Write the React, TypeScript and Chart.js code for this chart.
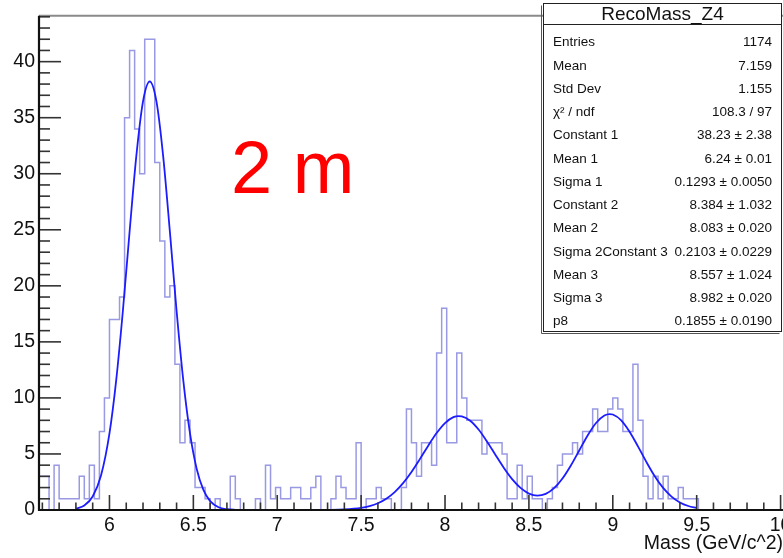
import React, { useEffect, useRef } from 'react';
import { Chart, registerables } from 'chart.js';

Chart.register(...registerables);

// ---------------- data ----------------
const BIN_LOW = 5.58;
const BIN_WIDTH = 0.03;
const COUNTS = [
  3, 3, 3, 0, 4, 1, 1, 1, 1, 3, 1, 4, 1, 7,
  10, 17, 17, 19, 35, 41, 34, 30, 42, 42, 31, 24, 19, 20, 13, 6, 8, 6,
  2, 2, 1, 0, 1, 0, 0, 3, 1,
  0, 0, 0, 1, 0, 4, 1, 2, 1, 1, 2, 2, 1, 1, 2, 3,
  0, 0, 1, 3, 2, 1, 1, 6, 0, 1, 1, 2, 1, 1, 0, 0, 2,
  9, 6, 3, 6, 6, 4, 14, 18, 6, 6, 14, 10, 8, 8, 8, 5, 6, 6, 6, 5, 1, 1, 4, 1, 3, 1,
  1, 0, 1, 2, 4, 5, 5, 6, 5, 7, 7, 9, 7, 7, 9, 10, 9, 7, 7, 13, 8, 3, 1, 3, 1, 3, 1, 1, 2, 1, 1, 1, 0,
  0, 0, 0, 0, 0, 0, 0, 0, 0, 0, 0, 0, 0, 0, 0, 0, 0,
];

const FIT_X = [
  5.8, 5.85, 5.9, 5.95, 6.0, 6.04, 6.08, 6.12, 6.16, 6.2, 6.24, 6.28, 6.32, 6.36, 6.4, 6.44, 6.48,
  6.52, 6.56, 6.6, 6.65, 6.7, 6.75, 6.8, 7.0, 7.2, 7.3, 7.4, 7.5, 7.55, 7.6, 7.65, 7.7, 7.75, 7.8,
  7.85, 7.9, 7.95, 8.0, 8.05, 8.08, 8.1, 8.15, 8.2, 8.25, 8.3, 8.35, 8.4, 8.45, 8.5, 8.55, 8.6, 8.65,
  8.7, 8.75, 8.8, 8.85, 8.9, 8.95, 8.98, 9.0, 9.05, 9.1, 9.15, 9.2, 9.25, 9.3, 9.35, 9.4, 9.45, 9.5,
];
const FIT_Y = [
  0.117, 0.404, 1.205, 3.091, 6.83, 11.56, 17.78, 24.85, 31.57, 36.45, 38.23, 36.45, 31.57, 24.85, 17.78, 11.56, 6.83,
  3.665, 1.788, 0.793, 0.251, 0.068, 0.015, 0.003, 0, 0.001, 0.008, 0.043, 0.18, 0.338, 0.6, 1.007, 1.596, 2.393, 3.39,
  4.538, 5.741, 6.864, 7.756, 8.282, 8.383, 8.357, 7.969, 7.182, 6.117, 4.933, 3.771, 2.754, 1.969, 1.466, 1.281, 1.435, 1.946,
  2.808, 3.969, 5.313, 6.654, 7.764, 8.431, 8.557, 8.517, 8.001, 6.99, 5.678, 4.29, 3.014, 1.969, 1.196, 0.676, 0.355, 0.173,
];

const X_MIN = 5.58;
const X_MAX = 10.08;
const Y_MIN = 0;
const Y_MAX = 44.1;
const X_TICKS = [6, 6.5, 7, 7.5, 8, 8.5, 9, 9.5, 10];
const X_TICK_LABELS = ['6', '6.5', '7', '7.5', '8', '8.5', '9', '9.5', '10'];
const X_MINOR_START = 5.6;
const X_MINOR_STEP = 0.1;
const Y_TICKS = [0, 5, 10, 15, 20, 25, 30, 35, 40];
const Y_TICK_LABELS = ['0', '5', '10', '15', '20', '25', '30', '35', '40'];
const Y_MINOR_STEP = 1;

const X_TITLE = 'Mass (GeV/c^2)';
const ANNOTATION = '2 m';
const STATS_TITLE = 'RecoMass_Z4';
const STATS_LABELS = [
  'Entries', 'Mean', 'Std Dev', 'χ² / ndf', 'Constant 1', 'Mean 1', 'Sigma 1',
  'Constant 2', 'Mean 2', 'Sigma 2Constant 3', 'Mean 3', 'Sigma 3', 'p8',
];
const STATS_VALUES = [
  '1174', '7.159', '1.155', '108.3 / 97', '38.23 ± 2.38', '6.24 ± 0.01', '0.1293 ± 0.0050',
  '8.384 ± 1.032', '8.083 ± 0.020', '0.2103 ± 0.0229', '8.557 ± 1.024', '8.982 ± 0.020', '0.1855 ± 0.0190',
];

const FONT = '"Liberation Sans", Arial, Helvetica, sans-serif';

// ---------------- decorations plugin ----------------
const rootDecor = {
  id: 'rootDecor',
  afterDatasetsDraw(chart: any) {
    const ctx = chart.ctx as CanvasRenderingContext2D;
    const xs = chart.scales.x;
    const ys = chart.scales.y;
    const { left, right, top, bottom } = chart.chartArea;
    ctx.save();

    // frame top (grey)
    ctx.strokeStyle = '#8a8a8a';
    ctx.lineWidth = 2;
    ctx.beginPath();
    ctx.moveTo(left, top);
    ctx.lineTo(right, top);
    ctx.stroke();

    // ticks
    ctx.strokeStyle = '#333';
    ctx.lineWidth = 1.6;
    for (let k = 0; ; k++) {
      const v = X_MINOR_START + k * X_MINOR_STEP;
      if (v > X_MAX) break;
      const px = xs.getPixelForValue(v);
      const major = Math.abs(v * 2 - Math.round(v * 2)) < 1e-6;
      const len = major ? 15 : 7.5;
      ctx.beginPath();
      ctx.moveTo(px, bottom);
      ctx.lineTo(px, bottom - len);
      ctx.stroke();
    }
    for (let k = 0; ; k++) {
      const v = Y_MIN + k * Y_MINOR_STEP;
      if (v > Y_MAX) break;
      const py = ys.getPixelForValue(v);
      const major = v % 5 === 0;
      const len = major ? 22 : 11;
      ctx.beginPath();
      ctx.moveTo(left, py);
      ctx.lineTo(left + len, py);
      ctx.stroke();
    }

    // axis lines
    ctx.strokeStyle = '#111';
    ctx.lineWidth = 2.2;
    ctx.beginPath();
    ctx.moveTo(left, top);
    ctx.lineTo(left, bottom);
    ctx.lineTo(right, bottom);
    ctx.stroke();

    // axis title
    ctx.fillStyle = '#111';
    ctx.font = `19.5px ${FONT}`;
    ctx.textAlign = 'right';
    ctx.textBaseline = 'alphabetic';
    ctx.fillText(X_TITLE, 783, 549);

    // annotation
    ctx.fillStyle = '#ff0000';
    ctx.font = `74px ${FONT}`;
    ctx.textAlign = 'left';
    ctx.fillText(ANNOTATION, 231, 193);

    // stats box
    const bx = 543.5, by = 3.5, bx2 = 781.5, by2 = 331.5;
    ctx.fillStyle = '#fff';
    ctx.fillRect(bx, by, bx2 - bx, by2 - by);
    ctx.strokeStyle = '#555';
    ctx.lineWidth = 1;
    ctx.beginPath();
    ctx.moveTo(bx - 2, by + 2);
    ctx.lineTo(bx - 2, by2 + 2);
    ctx.lineTo(bx2 - 2, by2 + 2);
    ctx.stroke();
    ctx.strokeStyle = '#222';
    ctx.strokeRect(bx, by, bx2 - bx, by2 - by);
    ctx.beginPath();
    ctx.moveTo(bx, 24.5);
    ctx.lineTo(bx2, 24.5);
    ctx.stroke();

    ctx.fillStyle = '#111';
    ctx.font = `19px ${FONT}`;
    ctx.textAlign = 'center';
    ctx.textBaseline = 'middle';
    ctx.fillText(STATS_TITLE, (bx + bx2) / 2, 15);

    ctx.font = `13.5px ${FONT}`;
    for (let i = 0; i < STATS_LABELS.length; i++) {
      const y = 42.7 + i * 23.25;
      ctx.textAlign = 'left';
      ctx.fillText(STATS_LABELS[i], 553, y);
      ctx.textAlign = 'right';
      ctx.fillText(STATS_VALUES[i], 772, y);
    }
    ctx.restore();
  },
};

export default function App() {
  const ref = useRef<HTMLCanvasElement | null>(null);

  useEffect(() => {
    const canvas = ref.current;
    if (!canvas) return;

    const histPoints = COUNTS.map((c, i) => ({ x: BIN_LOW + i * BIN_WIDTH, y: c }));
    histPoints.push({ x: BIN_LOW + COUNTS.length * BIN_WIDTH, y: COUNTS[COUNTS.length - 1] });
    const fitPoints = FIT_X.map((x, i) => ({ x, y: FIT_Y[i] }));

    const chart = new Chart(canvas, {
      type: 'line',
      data: {
        datasets: [
          {
            data: histPoints,
            stepped: 'after',
            borderColor: 'rgba(85,85,210,0.6)',
            borderWidth: 1.5,
            pointRadius: 0,
            fill: false,
            order: 2,
          },
          {
            data: fitPoints,
            borderColor: '#1c1cff',
            borderWidth: 1.8,
            pointRadius: 0,
            fill: false,
            cubicInterpolationMode: 'monotone',
            order: 1,
          },
        ],
      },
      options: {
        responsive: false,
        animation: false,
        parsing: false,
        normalized: true,
        events: [],
        layout: { padding: { left: 0, right: 6, top: 5, bottom: 0 } },
        plugins: { legend: { display: false }, tooltip: { enabled: false } },
        scales: {
          x: {
            type: 'linear',
            min: X_MIN,
            max: X_MAX,
            grid: { display: false, drawTicks: false },
            border: { display: false },
            afterBuildTicks: (s: any) => {
              s.ticks = X_TICKS.map((v) => ({ value: v }));
            },
            afterFit: (s: any) => {
              s.height = 48;
            },
            ticks: {
              autoSkip: false,
              maxRotation: 0,
              padding: 4,
              color: '#111',
              font: { family: FONT, size: 19.5 },
              callback: (v: any) => {
                const i = X_TICKS.indexOf(Number(v));
                return i >= 0 ? X_TICK_LABELS[i] : '';
              },
            },
          },
          y: {
            type: 'linear',
            min: Y_MIN,
            max: Y_MAX,
            grid: { display: false, drawTicks: false },
            border: { display: false },
            afterBuildTicks: (s: any) => {
              s.ticks = Y_TICKS.map((v) => ({ value: v }));
            },
            afterFit: (s: any) => {
              s.width = 39;
            },
            ticks: {
              autoSkip: false,
              padding: 4,
              color: '#111',
              font: { family: FONT, size: 19.5 },
              callback: (v: any) => {
                const i = Y_TICKS.indexOf(Number(v));
                return i >= 0 ? Y_TICK_LABELS[i] : '';
              },
            },
          },
        },
      },
      plugins: [rootDecor],
    } as any);

    return () => chart.destroy();
  }, []);

  return (
    <div
      style={{
        position: 'fixed',
        left: 0,
        top: 0,
        width: 783,
        height: 558,
        overflow: 'hidden',
        background: '#fff',
      }}
    >
      <canvas ref={ref} width={800} height={558} style={{ display: 'block', width: 800, height: 558 }} />
    </div>
  );
}
